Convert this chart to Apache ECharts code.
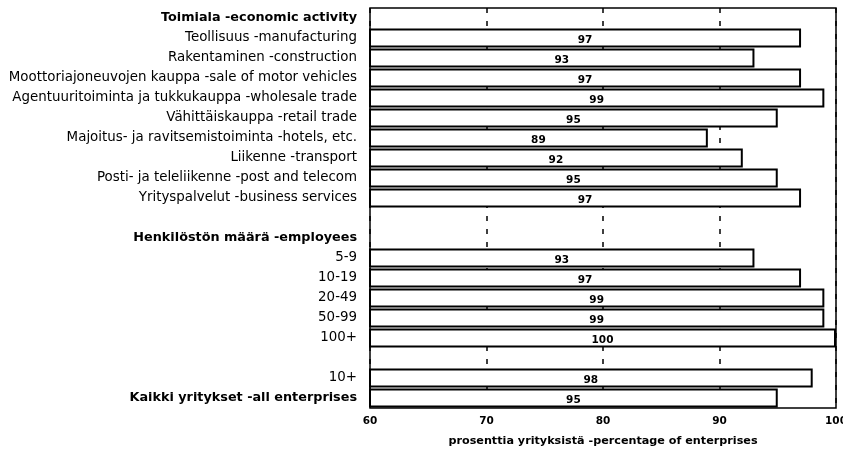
<!DOCTYPE html>
<html><head><meta charset="utf-8">
<script src="https://cdn.jsdelivr.net/npm/echarts@6/dist/echarts.min.js"></script>
<style>html,body{margin:0;padding:0;background:#fff;overflow:hidden;width:843px;height:453px}#c{width:843px;height:453px;display:block}</style>
</head><body><div id="c"></div>
<script>
const categories = [
  'Toimiala -economic activity',
  'Teollisuus -manufacturing',
  'Rakentaminen -construction',
  'Moottoriajoneuvojen kauppa -sale of motor vehicles',
  'Agentuuritoiminta ja tukkukauppa -wholesale trade',
  'Vähittäiskauppa -retail trade',
  'Majoitus- ja ravitsemistoiminta -hotels, etc.',
  'Liikenne -transport',
  'Posti- ja teleliikenne -post and telecom',
  'Yrityspalvelut -business services',
  '',
  'Henkilöstön määrä -employees',
  '5-9',
  '10-19',
  '20-49',
  '50-99',
  '100+',
  ' ',
  '10+',
  'Kaikki yritykset -all enterprises'
];
const values = [null, 97, 93, 97, 99, 95, 89, 92, 95, 97, null, null, 93, 97, 99, 99, 100, null, 98, 95];
const boldLabels = ['Toimiala -economic activity', 'Henkilöstön määrä -employees', 'Kaikki yritykset -all enterprises'];
const xTicks = [60, 70, 80, 90, 100];
const axisTitle = 'prosenttia yrityksistä -percentage of enterprises';

const FONT = 'DejaVu Sans, Liberation Sans, sans-serif';
const chart = echarts.init(document.getElementById('c'), null, {renderer: 'canvas', width: 843, height: 453});
chart.setOption({
  animation: false,
  backgroundColor: '#fff',
  textStyle: {fontFamily: FONT, color: '#000'},
  grid: {left: 370, right: 7, top: 8, bottom: 45, show: true, borderColor: '#000', borderWidth: 1.5,
    backgroundColor: 'transparent', containLabel: false, outerBoundsMode: 'none'},
  xAxis: {
    type: 'value', min: xTicks[0], max: xTicks[xTicks.length - 1], interval: 10,
    axisLine: {show: false}, axisTick: {show: false},
    splitLine: {show: true, lineStyle: {color: '#000', type: [5, 8], width: 1.5}},
    axisLabel: {color: '#000', fontFamily: FONT, fontSize: 10.5, fontWeight: 'bold', margin: 8},
    name: axisTitle, nameLocation: 'middle', nameGap: 28,
    nameTextStyle: {color: '#000', fontFamily: FONT, fontSize: 11.2, fontWeight: 'bold'}
  },
  yAxis: {
    type: 'category', data: categories, inverse: true,
    axisLine: {show: false}, axisTick: {show: false}, splitLine: {show: false},
    axisLabel: {
      color: '#000', fontSize: 13, margin: 13, interval: 0,
      formatter: v => boldLabels.includes(v) ? '{b|' + v + '}' : '{n|' + v + '}',
      rich: {
        b: {fontSize: 12.8, fontWeight: 'bold', color: '#000', fontFamily: FONT},
        n: {fontSize: 13.4, color: '#000', fontFamily: FONT}
      }
    }
  },
  series: [{
    type: 'bar', data: values, barCategoryGap: '6%',
    itemStyle: {color: '#fff', borderColor: '#000', borderWidth: 2},
    label: {show: true, position: 'inside', color: '#000', fontFamily: FONT, fontSize: 10.5, fontWeight: 'bold', offset: [0, 2]}
  }]
});
</script></body></html>
